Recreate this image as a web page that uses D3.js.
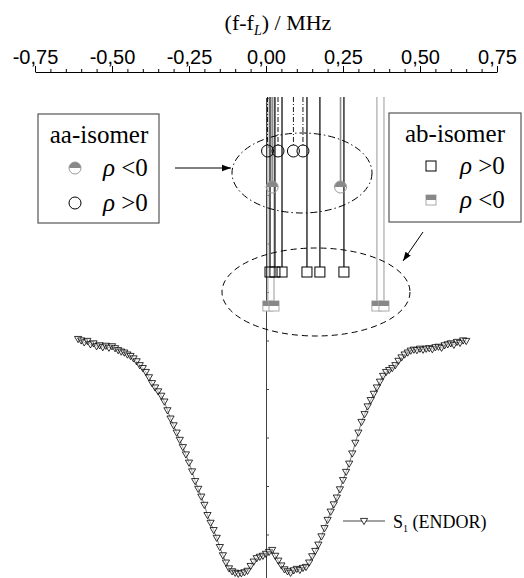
<!DOCTYPE html>
<html lang="en">
<meta charset="utf-8">
<style type="text/css">
  body { margin: 0; background: #fff; }
  svg text { font-family: 'Liberation Serif', 'Times New Roman', serif; fill: #000; }
</style>
<script src="https://cdn.jsdelivr.net/npm/d3@7"></script>
<body>
<div id="chart"></div>
<script type="text/javascript">
  var w = 524, h = 578;

  // top frequency axis (MHz)
  var axisTicks = [-0.75, -0.5, -0.25, 0, 0.25, 0.5, 0.75];
  var minorTicks = [-0.7, -0.65, -0.6, -0.55, -0.45, -0.4, -0.35, -0.3, -0.2, -0.15, -0.1, -0.05,
                    0.05, 0.1, 0.15, 0.2, 0.3, 0.35, 0.4, 0.45, 0.55, 0.6, 0.65, 0.7];

  // hyperfine couplings (MHz)
  var aaPos = [0.005, 0.039, 0.089, 0.120];               // aa-isomer, rho > 0
  var aaNeg = [0.020, 0.242];                             // aa-isomer, rho < 0
  var abPos = [0.013, 0.029, 0.052, 0.133, 0.175, 0.253]; // ab-isomer, rho > 0
  var abNeg = [0.006, 0.026, 0.360, 0.383];               // ab-isomer, rho < 0

  // ENDOR spectrum S1, sampled every 0.01 MHz from -0.61 MHz
  var endorStart = -0.61, endorStep = 0.01;
  var endorY = [
    50.3, 50.0, 49.6, 49.9, 49.2, 49.4, 48.8, 49.0, 48.6, 48.9,
    48.5, 48.8, 48.4, 48.0, 47.7, 47.5, 47.1, 46.8, 46.3, 45.7,
    44.9, 44.3, 43.5, 42.4, 41.2, 40.3, 39.5, 38.6, 37.4, 35.6,
    33.9, 32.5, 31.0, 29.5, 28.0, 26.5, 24.8, 23.0, 21.0, 19.4,
    17.8, 16.1, 14.0, 12.4, 10.9, 9.3, 7.4, 5.7, 4.2, 3.0,
    2.4, 2.1, 1.9, 2.0, 2.2, 2.5, 3.5, 4.4, 5.1, 5.4,
    5.6, 6.0, 6.4, 6.8, 5.6, 4.6, 3.6, 2.8, 2.4, 2.1,
    2.6, 2.9, 2.7, 3.1, 3.3, 4.2, 5.5, 6.6, 7.9, 9.6,
    11.3, 13.0, 14.7, 16.2, 17.6, 19.3, 21.2, 22.9, 24.6, 26.7,
    28.9, 31.0, 33.2, 34.8, 36.4, 37.7, 39.0, 40.3, 41.5, 42.7,
    43.5, 43.9, 44.3, 44.9, 45.8, 46.5, 47.1, 47.5, 47.9, 48.1,
    48.0, 48.3, 48.1, 48.3, 48.4, 48.2, 48.6, 48.7, 48.5, 49.0,
    49.2, 49.4, 49.1, 49.7, 49.5, 50.0, 49.9
  ];
  var endorTicks = [10, 20, 30, 40, 50, 60, 70, 80, 90, 100];

  var svg = d3.select("#chart").append("svg")
      .attr("width", w)
      .attr("height", h);

  var x = d3.scaleLinear().domain([-0.75, 0.75]).range([35, 497]);
  var yE = d3.scaleLinear().domain([0, 100]).range([583, 98]);

  var axisY = 72, lineTop = 97;
  var rowAaPos = 151, rowAaNeg = 187, rowAbPos = 272, rowAbNeg = 306;
  var fmt = (d) => d3.format(".2f")(d).replace(".", ",").replace("\u2212", "-");

  // title
  var title = svg.append("text")
      .attr("x", 278).attr("y", 30)
      .attr("text-anchor", "middle")
      .style("font-size", "22px");
  title.append("tspan").text("(f-f");
  title.append("tspan").text("L").attr("dy", 5).style("font-size", "14px").style("font-style", "italic");
  title.append("tspan").text(") / MHz").attr("dy", -5);

  // top axis
  var gAx = svg.append("g")
      .attr("transform", "translate(0," + axisY + ")")
      .call(d3.axisTop(x).tickValues(axisTicks).tickSizeInner(6).tickSizeOuter(0).tickFormat(fmt));
  gAx.selectAll("text")
      .style("font-family", "'Liberation Sans', Arial, sans-serif")
      .style("font-size", "20px")
      .attr("y", -8);
  gAx.selectAll("line, path").attr("stroke", "#000").attr("stroke-width", 1);
  svg.append("g")
      .attr("transform", "translate(0," + axisY + ")")
      .call(d3.axisTop(x).tickValues(minorTicks).tickSize(3).tickFormat(""))
      .select(".domain").remove();

  // ENDOR intensity axis at f = f_L
  var gY = svg.append("g")
      .attr("transform", "translate(" + x(0) + ",0)")
      .call(d3.axisRight(yE).tickValues(endorTicks).tickSizeInner(3).tickSizeOuter(0).tickFormat(""));
  gY.selectAll("line, path").attr("stroke", "#444");

  // stick lines + markers
  function sticks(data, rowY, off, color, width, dash) {
    svg.append("g").selectAll("line")
      .data(data).enter().append("line")
        .attr("x1", (d) => x(d)).attr("x2", (d) => x(d))
        .attr("y1", lineTop).attr("y2", rowY - off)
        .attr("stroke", color)
        .attr("stroke-width", width)
        .attr("stroke-dasharray", dash);
  }
  sticks(aaNeg, rowAaNeg, 0, "#8a8a8a", 1.6, null);
  sticks(abNeg, rowAbNeg, 0, "#b0b0b0", 1.3, null);
  sticks(abPos, rowAbPos, 5, "#222", 1.4, null);
  sticks(aaPos, rowAaPos, 6, "#000", 0.9, "5,2,1,2");

  function halfCircle(g, cx, cy, r) {
    g.append("path")
      .attr("d", "M" + (cx - r) + "," + cy + " A" + r + "," + r + " 0 0 1 " + (cx + r) + "," + cy + " Z")
      .attr("fill", "#888");
    g.append("circle").attr("cx", cx).attr("cy", cy).attr("r", r)
      .attr("fill", "none").attr("stroke", "#999").attr("stroke-width", 1);
  }
  function halfSquare(g, cx, cy, s) {
    g.append("rect").attr("x", cx - s / 2).attr("y", cy - s / 2).attr("width", s).attr("height", s)
      .attr("fill", "#fff").attr("stroke", "#aaa").attr("stroke-width", 1);
    g.append("rect").attr("x", cx - s / 2).attr("y", cy - s / 2).attr("width", s).attr("height", s / 2)
      .attr("fill", "#888");
  }

  var gM = svg.append("g");
  aaPos.forEach((d) => {
    gM.append("circle").attr("cx", x(d)).attr("cy", rowAaPos).attr("r", 6)
      .attr("fill", "none").attr("stroke", "#000").attr("stroke-width", 1);
  });
  aaNeg.forEach((d) => halfCircle(gM, x(d), rowAaNeg, 6));
  abPos.forEach((d) => {
    gM.append("rect").attr("x", x(d) - 5).attr("y", rowAbPos - 5).attr("width", 10).attr("height", 10)
      .attr("fill", "none").attr("stroke", "#000").attr("stroke-width", 1);
  });
  abNeg.forEach((d) => halfSquare(gM, x(d), rowAbNeg, 10));

  // ellipses + arrows
  svg.append("ellipse").attr("cx", 302).attr("cy", 173).attr("rx", 70).attr("ry", 40)
    .attr("fill", "none").attr("stroke", "#000").attr("stroke-width", 1).attr("stroke-dasharray", "7,3,1.5,3");
  svg.append("ellipse").attr("cx", 316).attr("cy", 292).attr("rx", 94).attr("ry", 44)
    .attr("fill", "none").attr("stroke", "#000").attr("stroke-width", 1).attr("stroke-dasharray", "6,4");

  svg.append("defs").append("marker")
      .attr("id", "arr").attr("viewBox", "0 0 10 10")
      .attr("refX", 10).attr("refY", 5)
      .attr("markerWidth", 9).attr("markerHeight", 9)
      .attr("orient", "auto").attr("markerUnits", "userSpaceOnUse")
    .append("path").attr("d", "M0,1.5 L10,5 L0,8.5 Z").attr("fill", "#000");
  svg.append("line").attr("x1", 175).attr("y1", 168).attr("x2", 231).attr("y2", 168)
    .attr("stroke", "#000").attr("stroke-width", 1).attr("marker-end", "url(#arr)");
  svg.append("line").attr("x1", 423).attr("y1", 232).attr("x2", 403).attr("y2", 261)
    .attr("stroke", "#000").attr("stroke-width", 1).attr("marker-end", "url(#arr)");

  // legend boxes
  function rhoText(g, tx, ty, sign) {
    var t = g.append("text").attr("x", tx).attr("y", ty).style("font-size", "25px");
    t.append("tspan").text("\u03c1").style("font-style", "italic");
    t.append("tspan").text(" " + sign + "0");
  }

  var gL = svg.append("g");
  gL.append("rect").attr("x", 38).attr("y", 114).attr("width", 121).attr("height", 109)
    .attr("fill", "#fff").attr("stroke", "#555").attr("stroke-width", 1.2);
  gL.append("text").attr("x", 99).attr("y", 143).attr("text-anchor", "middle")
    .style("font-size", "25px").text("aa-isomer");
  halfCircle(gL, 75, 168, 6);
  gL.append("circle").attr("cx", 75).attr("cy", 203).attr("r", 6)
    .attr("fill", "none").attr("stroke", "#000").attr("stroke-width", 1);
  rhoText(gL, 103, 176, "<");
  rhoText(gL, 103, 211, ">");

  var gR = svg.append("g");
  gR.append("rect").attr("x", 389).attr("y", 113).attr("width", 132).attr("height", 109)
    .attr("fill", "#fff").attr("stroke", "#555").attr("stroke-width", 1.2);
  gR.append("text").attr("x", 455).attr("y", 142).attr("text-anchor", "middle")
    .style("font-size", "25px").text("ab-isomer");
  gR.append("rect").attr("x", 426).attr("y", 161).attr("width", 10).attr("height", 10)
    .attr("fill", "none").attr("stroke", "#000").attr("stroke-width", 1);
  halfSquare(gR, 431, 200, 10);
  rhoText(gR, 460, 174, ">");
  rhoText(gR, 460, 208, "<");

  // ENDOR spectrum
  var endor = endorY.map((v, i) => ({f: endorStart + i * endorStep, v: v}));
  var tri = "M-3.6,-2.6 L3.6,-2.6 L0,3.6 Z";

  svg.append("path")
    .datum(endor)
    .attr("d", d3.line().x((d) => x(d.f)).y((d) => yE(d.v)))
    .attr("fill", "none").attr("stroke", "#444").attr("stroke-width", 0.7);

  svg.append("g").selectAll("path")
    .data(endor).enter().append("path")
      .attr("transform", (d) => "translate(" + x(d.f) + "," + yE(d.v) + ")")
      .attr("d", tri)
      .attr("fill", "#fff").attr("fill-opacity", 0.4)
      .attr("stroke", "#000").attr("stroke-width", 0.8);

  // ENDOR legend
  svg.append("line").attr("x1", 343).attr("x2", 385).attr("y1", 521).attr("y2", 521)
    .attr("stroke", "#444").attr("stroke-width", 1);
  svg.append("path").attr("transform", "translate(364,521)").attr("d", tri)
    .attr("fill", "#fff").attr("stroke", "#000").attr("stroke-width", 0.8);
  var lt = svg.append("text").attr("x", 393).attr("y", 528).style("font-size", "18px");
  lt.append("tspan").text("S");
  lt.append("tspan").text("1").attr("dy", 4).style("font-size", "10px");
  lt.append("tspan").text(" (ENDOR)").attr("dy", -4);
</script>
</body>
</html>
